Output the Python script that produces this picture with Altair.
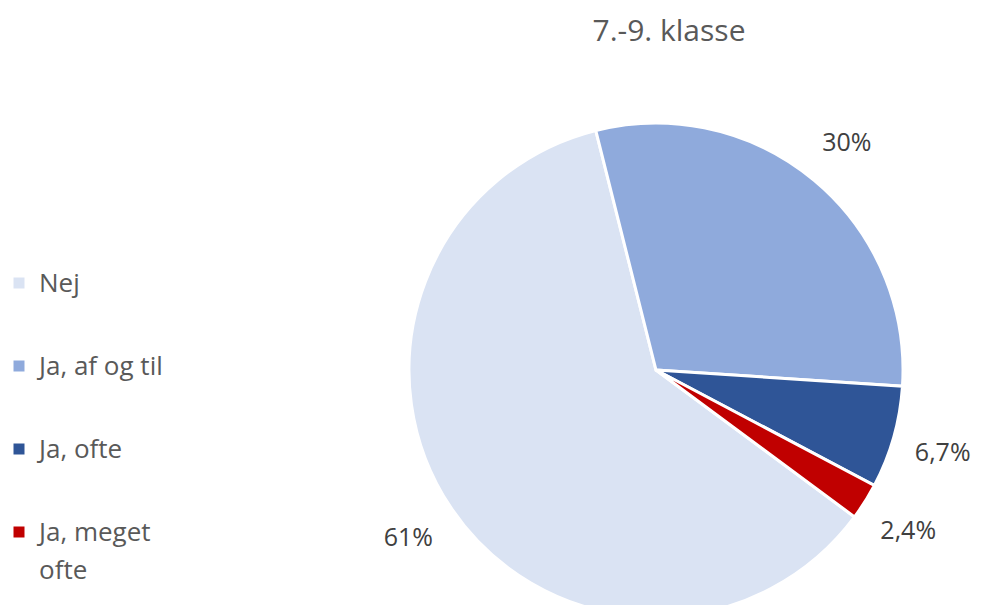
import altair as alt
import pandas as pd
import math

categories = ["Nej", "Ja, af og til", "Ja, ofte", "Ja, meget ofte"]
legend_labels = ["Nej", "Ja, af og til", "Ja, ofte", "Ja, meget\nofte"]
values = [61, 30, 6.7, 2.4]
value_labels = ["61%", "30%", "6,7%", "2,4%"]
colors = ["#DAE3F3", "#8FAADC", "#2F5597", "#C00000"]
title_text = "7.-9. klasse"

df = pd.DataFrame({
    "category": categories,
    "value": values,
    "label": value_labels,
    "legend": legend_labels,
    "idx": list(range(len(categories))),
})

FONT = "Open Sans"
start = math.radians(126.5)
cx, cy = 648, 362

theta = alt.Theta("value:Q", stack=True,
                  scale=alt.Scale(range=[start, start + 2 * math.pi]))
color = alt.Color("category:N", scale=alt.Scale(domain=categories, range=colors), legend=None)
order = alt.Order("idx:Q")

base = alt.Chart(df)

pie = base.mark_arc(radius=247, stroke="white", strokeWidth=3).encode(
    theta=theta, color=color, order=order,
    x=alt.value(cx), y=alt.value(cy),
)

labels = base.mark_text(radius=298, font=FONT, fontSize=25, color="#404040").encode(
    theta=theta, order=order, text="label:N",
    x=alt.value(cx), y=alt.value(cy + 2),
)

ly = alt.Y("idx:Q", scale=alt.Scale(domain=[0, 3], range=[275, 524]), axis=None)

leg_sym = base.mark_square(size=121, opacity=1).encode(
    x=alt.value(11), y=ly, color=color,
)
leg_txt = base.mark_text(align="left", baseline="alphabetic", dy=9, lineBreak="\n",
                         lineHeight=38, font=FONT, fontSize=26, color="#595959").encode(
    x=alt.value(31), y=ly, text="legend:N",
)

title = alt.Chart(pd.DataFrame({"t": [title_text]})).mark_text(
    font=FONT, fontSize=30, color="#595959", align="center", baseline="alphabetic"
).encode(x=alt.value(661), y=alt.value(33), text="t:N")

chart = alt.layer(pie, labels, leg_sym, leg_txt, title).resolve_scale(y="independent").properties(
    width=965, height=597, autosize="none", padding=0
).configure_view(stroke=None)

chart.save("out.html", embed_options={"renderer": "svg", "actions": False})
